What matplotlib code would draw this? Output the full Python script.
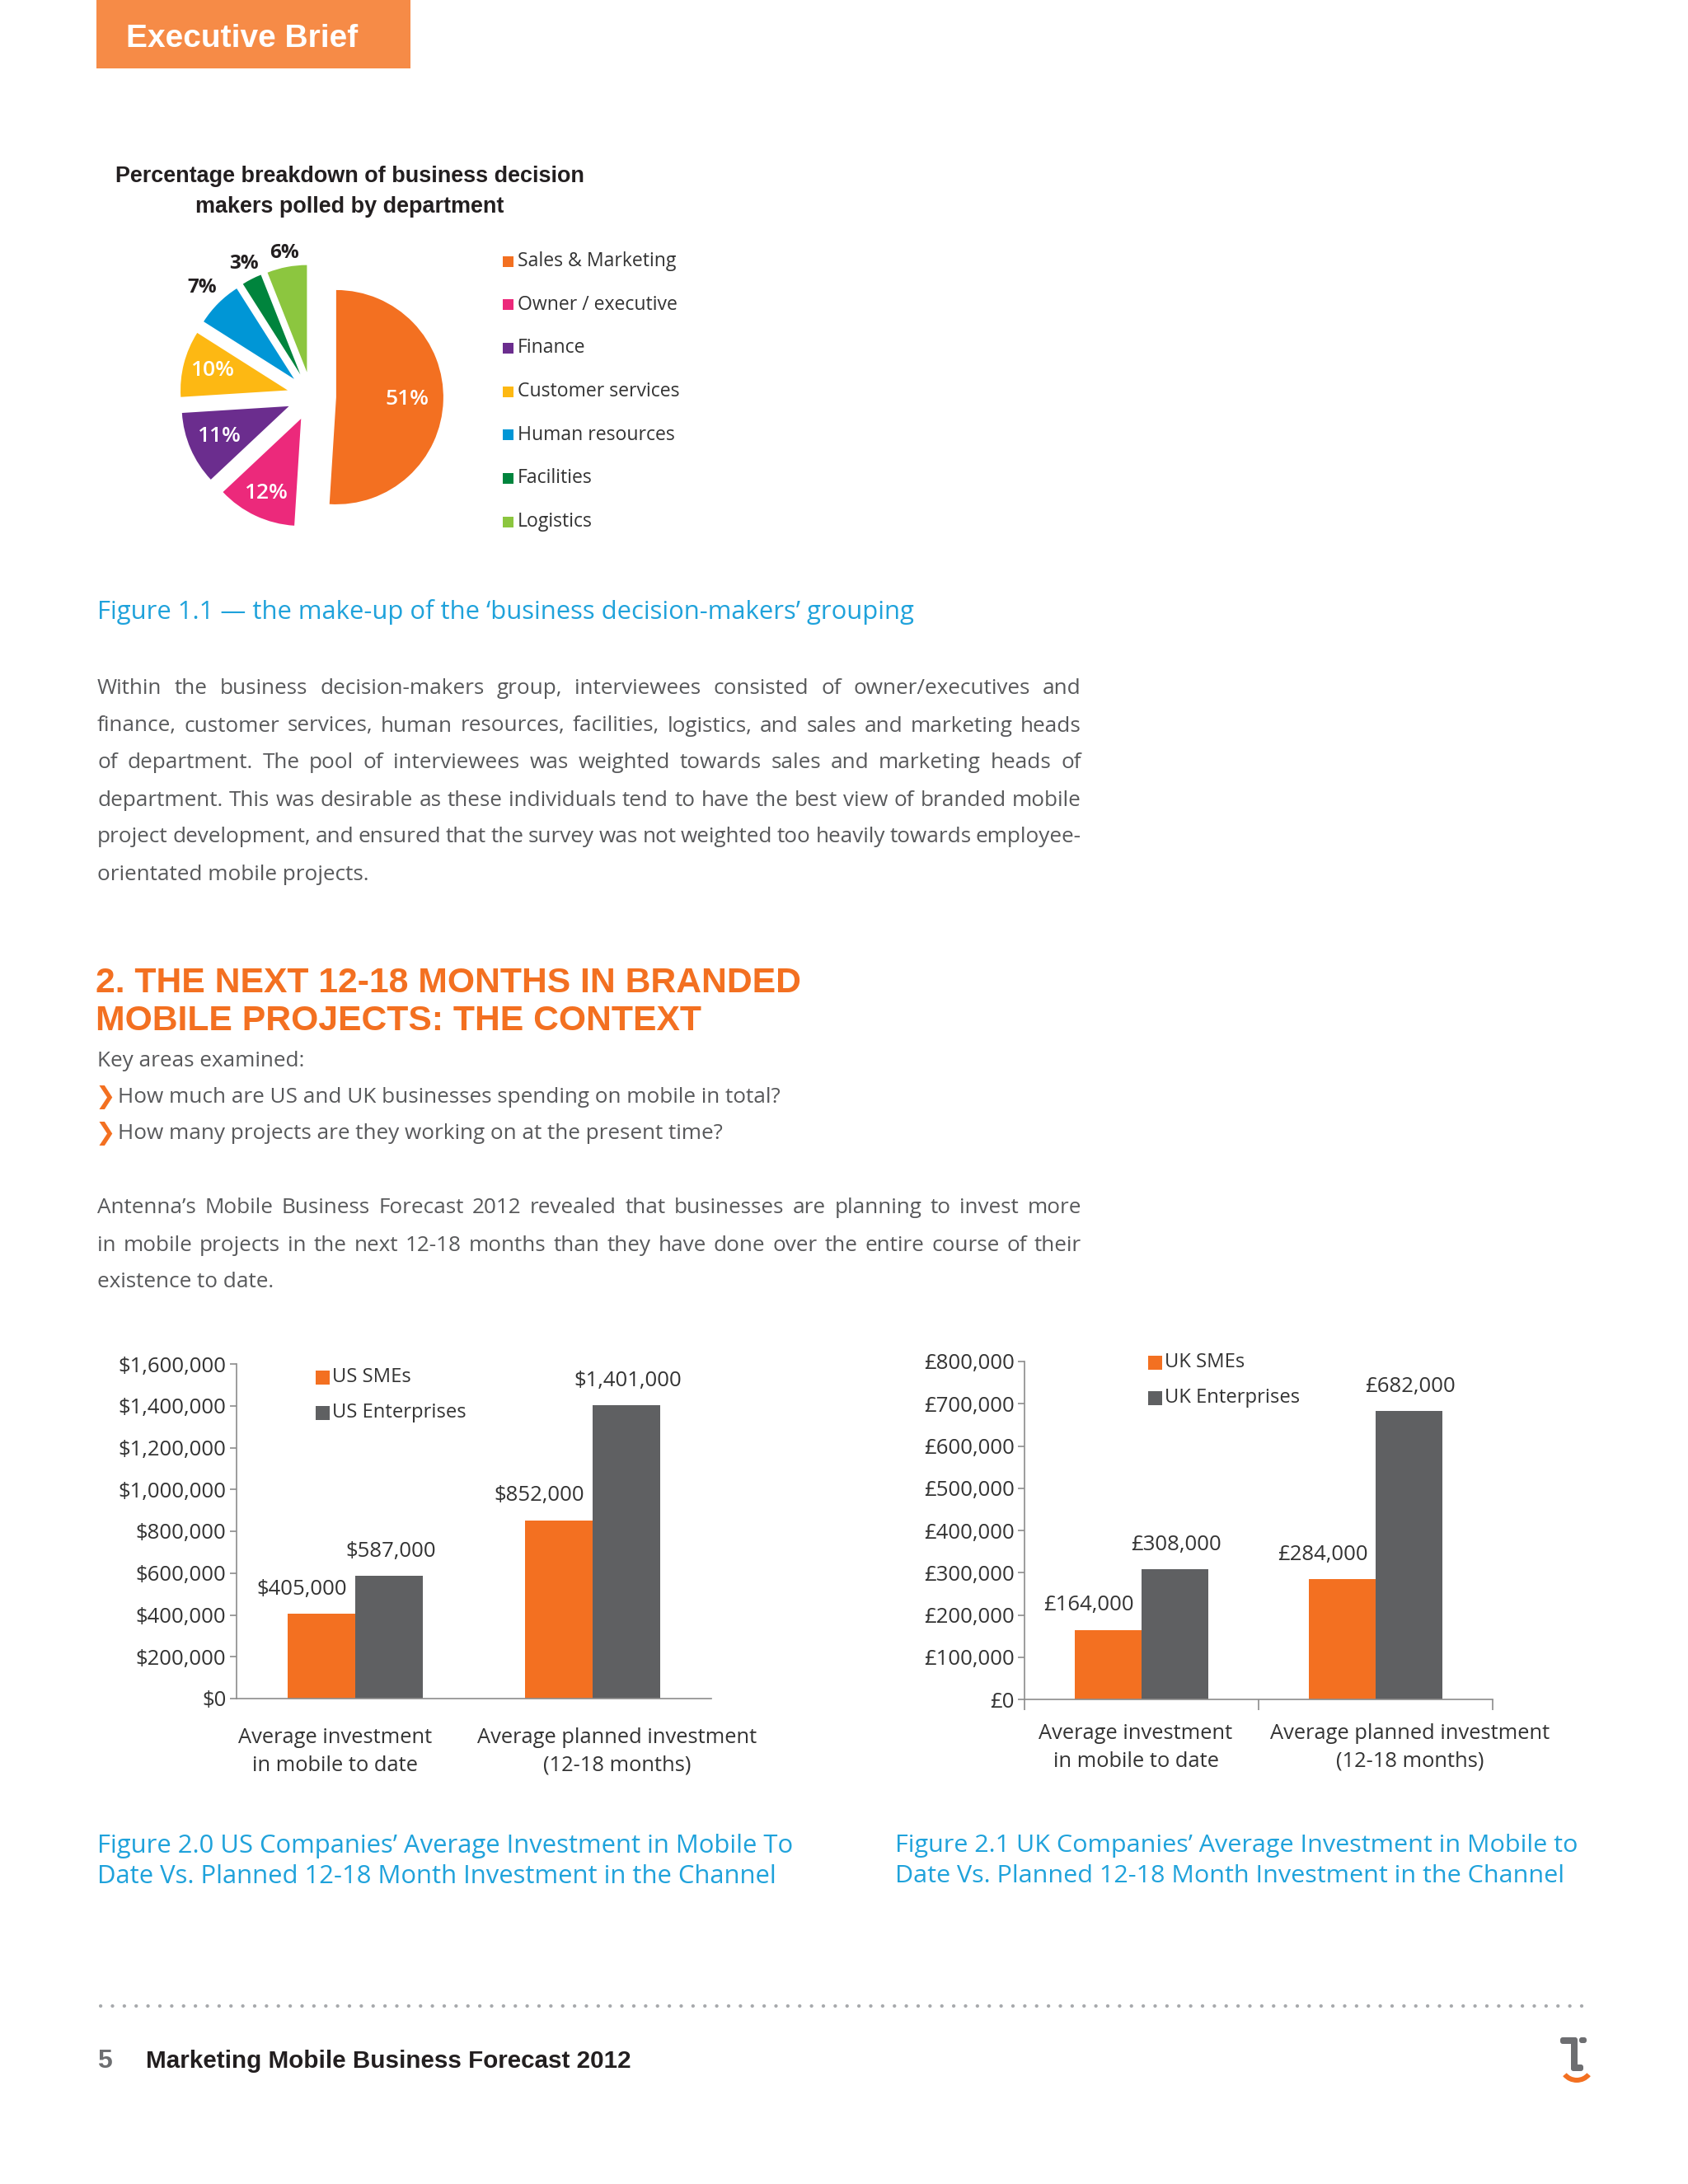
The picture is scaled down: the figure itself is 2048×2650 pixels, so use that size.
import numpy as np
import matplotlib
matplotlib.use('Agg')
import matplotlib.pyplot as plt
from matplotlib.patches import Rectangle, Wedge, FancyBboxPatch
from matplotlib.ticker import FuncFormatter

plt.rcParams['font.family'] = ['Open Sans', 'DejaVu Sans']

W, H = 2048, 2650

# pie data
departments = ['Sales & Marketing', 'Owner / executive', 'Finance', 'Customer services',
               'Human resources', 'Facilities', 'Logistics']
dept_share = [51, 12, 11, 10, 7, 3, 6]
dept_colors = ['#F37021', '#EC297B', '#6B2D8E', '#FDB813', '#0096D6', '#00843D', '#8CC63F']

# bar data
invest_cats = ['Average investment\nin mobile to date',
               'Average planned investment\n(12-18 months)']
us_series = ['US SMEs', 'US Enterprises']
us_sme = [405000, 852000]
us_ent = [587000, 1401000]
uk_series = ['UK SMEs', 'UK Enterprises']
uk_sme = [164000, 284000]
uk_ent = [308000, 682000]

para1 = [
    'Within the business decision-makers group, interviewees consisted of owner/executives and',
    'finance, customer services, human resources, facilities, logistics, and sales and marketing heads',
    'of department. The pool of interviewees was weighted towards sales and marketing heads of',
    'department. This was desirable as these individuals tend to have the best view of branded mobile',
    'project development, and ensured that the survey was not weighted too heavily towards employee-',
    'orientated mobile projects.',
]
para2 = [
    'Antenna\u2019s Mobile Business Forecast 2012 revealed that businesses are planning to invest more',
    'in mobile projects in the next 12-18 months than they have done over the entire course of their',
    'existence to date.',
]
bullets = ['How much are US and UK businesses spending on mobile in total?',
           'How many projects are they working on at the present time?']
fig11 = 'Figure 1.1 \u2014 the make-up of the \u2018business decision-makers\u2019 grouping'
fig20 = ['Figure 2.0 US Companies\u2019 Average Investment in Mobile To',
         'Date Vs. Planned 12-18 Month Investment in the Channel']
fig21 = ['Figure 2.1 UK Companies\u2019 Average Investment in Mobile to',
         'Date Vs. Planned 12-18 Month Investment in the Channel']
pie_title = ['Percentage breakdown of business decision', 'makers polled by department']
heading = ['2. THE NEXT 12-18 MONTHS IN BRANDED', 'MOBILE PROJECTS: THE CONTEXT']
footer = 'Marketing Mobile Business Forecast 2012'

ORANGE = '#F37021'
GRAY = '#5F6062'
BLUE = '#1FA2DB'
BODY = '#58595B'
DARK = '#231F20'
TXT = '#333333'
BOLD = ['Liberation Sans', 'DejaVu Sans']

fig = plt.figure(figsize=(W / 100, H / 100), dpi=100)
page = fig.add_axes([0, 0, 1, 1])
page.set_xlim(0, W)
page.set_ylim(H, 0)
page.axis('off')
renderer = fig.canvas.get_renderer()


def fit_size(s, target, **kw):
    t = page.text(0, 0, s, fontsize=10, **kw)
    w = t.get_window_extent(renderer).width
    t.remove()
    return 10 * target / w


def justified(lines, x0, x1, y0, step, **kw):
    for k, line in enumerate(lines):
        y = y0 + k * step
        if k == len(lines) - 1:
            page.text(x0, y, line, va='center', **kw)
            continue
        words = line.split(' ')
        ts = [page.text(x0, y, wd, va='center', **kw) for wd in words]
        ws = [t.get_window_extent(renderer).width for t in ts]
        gap = max((x1 - x0 - sum(ws)) / (len(words) - 1), 4)
        x = x0
        for t, wd in zip(ts, ws):
            t.set_x(x)
            x += wd + gap


BODY_FS = fit_size(bullets[0], 803)
CAP_FS = fit_size(fig11, 992)
TITLE_FS = fit_size(pie_title[0], 570, fontweight='bold', family=BOLD)
HEAD_FS = fit_size(heading[0], 851, fontweight='bold', family=BOLD)
FOOT_FS = fit_size(footer, 588, fontweight='bold', family=BOLD)
LEG_FS = fit_size(departments[0], 192)
TICK_FS = fit_size('$1,600,000', 132)
CAT_FS = fit_size('Average planned investment', 340)
BLEG_FS = fit_size(us_series[1], 162)

# header tab
page.add_patch(Rectangle((117, 0), 381, 83, color='#F68B47', lw=0))
page.text(153, 47, 'Executive Brief', color='white', fontsize=28, fontweight='bold',
          family=BOLD, va='center')

# pie chart
for i, line in enumerate(pie_title):
    page.text(424, 214 + i * 37, line, ha='center', va='center', fontsize=TITLE_FS,
              fontweight='bold', family=BOLD, color=DARK)

R, cx, cy = 130, 378, 481
half = 1.6 * R
ax_pie = fig.add_axes([(cx - half) / W, 1 - (cy + half) / H, 2 * half / W, 2 * half / H])
ax_pie.patch.set_alpha(0)
wedges, _ = ax_pie.pie(dept_share, colors=dept_colors, startangle=90, counterclock=False,
                       explode=[0.23] * len(dept_share), wedgeprops=dict(linewidth=0))
ax_pie.set_xlim(-1.6, 1.6)
ax_pie.set_ylim(-1.6, 1.6)
ax_pie.set_aspect('equal')

lab_dist = [0.89, 1.0, 0.94, 0.96, 1.44, 1.39, 1.36]
for wdg, v, d in zip(wedges, dept_share, lab_dist):
    ang = np.deg2rad((wdg.theta1 + wdg.theta2) / 2)
    inside = d < 1.2
    ax_pie.text(d * np.cos(ang), d * np.sin(ang), f'{v}%', ha='center', va='center',
                fontsize=19 if inside else 17.5, color='white' if inside else DARK,
                fontweight='semibold' if inside else 'bold')

for i, (name, col) in enumerate(zip(departments, dept_colors)):
    y = 317 + i * 52.7
    page.add_patch(Rectangle((610, y - 6.5), 13, 13, color=col, lw=0))
    page.text(628, y, name, va='center', fontsize=LEG_FS, color=TXT)

page.text(118, 742, fig11, va='center', fontsize=CAP_FS, color=BLUE)

justified(para1, 118, 1312, 836, 45, fontsize=BODY_FS, color=BODY)

# section heading
for i, line in enumerate(heading):
    page.text(116, 1193 + i * 46, line, va='center', fontsize=HEAD_FS,
              fontweight='bold', family=BOLD, color=ORANGE)
page.text(118, 1287, 'Key areas examined:', va='center', fontsize=BODY_FS, color=BODY)
for i, b in enumerate(bullets):
    y = 1331 + i * 45
    page.text(116, y, '\u276F', va='center', fontsize=21, color=ORANGE, family='DejaVu Sans')
    page.text(143, y, b, va='center', fontsize=BODY_FS, color=BODY)

justified(para2, 118, 1312, 1466, 45, fontsize=BODY_FS, color=BODY)


def bar_panel(box, sme, ent, names, cur, ymax, ystep, cat_dx, cat_dy, leg_x, leg_y, edge_ticks):
    left, top, right, bottom = box
    ax = fig.add_axes([left / W, 1 - bottom / H, (right - left) / W, (bottom - top) / H])
    ax.patch.set_alpha(0)
    x = np.arange(len(invest_cats))
    w = 0.285
    b1 = ax.bar(x - w / 2, sme, w, color=ORANGE)
    b2 = ax.bar(x + w / 2, ent, w, color=GRAY)
    ax.set_xlim(-0.5, len(x) - 0.5)
    ax.set_ylim(0, ymax)
    ax.set_yticks(np.arange(0, ymax + 1, ystep))
    ax.yaxis.set_major_formatter(FuncFormatter(lambda v, p: f'{cur}{int(v):,}'))
    for s in ('top', 'right'):
        ax.spines[s].set_visible(False)
    for s in ('left', 'bottom'):
        ax.spines[s].set_color('#8C8C8C')
        ax.spines[s].set_linewidth(1.2)
    ax.tick_params(axis='y', direction='out', length=6, width=1.2, color='#8C8C8C',
                   labelcolor=TXT, labelsize=TICK_FS, pad=3)
    ax.set_xticks(x)
    ax.set_xticklabels([])
    ax.tick_params(axis='x', length=0)
    if edge_ticks:
        ax.set_xticks(np.arange(-0.5, len(x)), minor=True)
        ax.tick_params(axis='x', which='minor', direction='out', length=9, width=1.2,
                       color='#8C8C8C')
    for bars, vals, dx in ((b1, sme, -24), (b2, ent, 2)):
        for rect, v in zip(bars, vals):
            ax.annotate(f'{cur}{v:,}', (rect.get_x() + rect.get_width() / 2, v),
                        xytext=(dx, 30), textcoords='offset pixels', ha='center',
                        va='center', fontsize=TICK_FS, color=TXT)
    for i, cat in enumerate(invest_cats):
        ax.annotate(cat, (i, 0), xytext=(cat_dx[i], cat_dy), textcoords='offset pixels',
                    ha='center', va='top', fontsize=CAT_FS, color=TXT, linespacing=1.45,
                    annotation_clip=False)
    for i, (name, col) in enumerate(zip(names, (ORANGE, GRAY))):
        y = leg_y + i * 43
        page.add_patch(Rectangle((leg_x, y - 8.5), 17, 17, color=col, lw=0))
        page.text(leg_x + 20, y, name, va='center', fontsize=BLEG_FS, color=TXT)
    return ax


bar_panel((287, 1655, 863, 2061), us_sme, us_ent, us_series, '$', 1600000, 200000,
          (-24, 30), -35, 383, 1671, False)
bar_panel((1243, 1652, 1811, 2062), uk_sme, uk_ent, uk_series, '\u00A3', 800000, 100000,
          (-7, 42), -29, 1393, 1653, True)

for i in range(2):
    page.text(118, 2240 + i * 37, fig20[i], va='center', fontsize=CAP_FS, color=BLUE)
    page.text(1086, 2240 + i * 37, fig21[i], va='center', fontsize=CAP_FS * 0.985, color=BLUE)

# footer
page.plot([122, 1925], [2434, 2434], color='#A7A9AC', lw=3, linestyle=(0, (0.05, 3.4)),
          dash_capstyle='round')
page.text(118, 2501, '5', va='center', fontsize=23, fontweight='bold', family=BOLD,
          color='#6D6E71')
page.text(177, 2501, footer, va='center', fontsize=FOOT_FS, fontweight='bold', family=BOLD,
          color=DARK)
logo_gray = '#6D6E71'
for (lx, ly, lw_, lh) in ((1893, 2472, 20, 8), (1916, 2472, 9, 7), (1906, 2472, 8, 40),
                          (1906, 2505, 15, 8)):
    page.add_patch(FancyBboxPatch((lx, ly), lw_, lh, boxstyle='round,pad=0,rounding_size=3',
                                  color=logo_gray, lw=0))
page.add_patch(Wedge((1913, 2505), 22, 40, 140, width=6, color=ORANGE, lw=0))

fig.savefig('out.png', dpi=100, facecolor='white')
